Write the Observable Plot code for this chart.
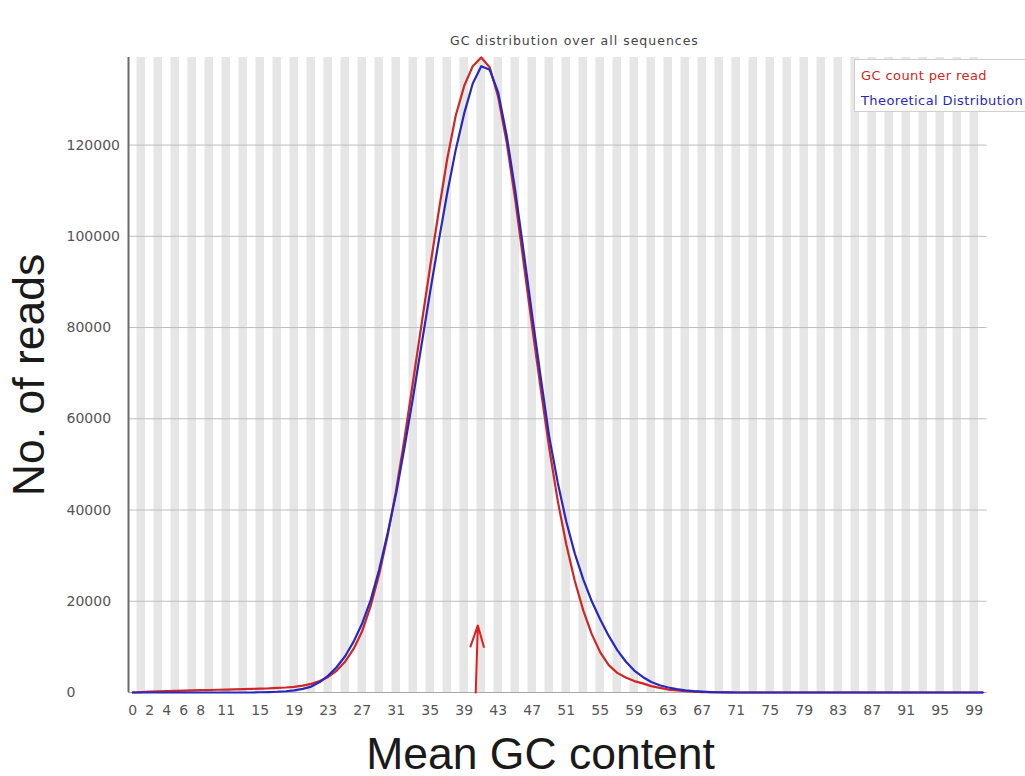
<!DOCTYPE html>
<html>
<head>
<meta charset="utf-8">
<script src="https://cdn.jsdelivr.net/npm/d3@7"></script>
<script src="https://cdn.jsdelivr.net/npm/@observablehq/plot@0.6"></script>
<style>
  html, body { margin: 0; padding: 0; background: #ffffff; overflow: hidden; }
  #wrap { position: relative; width: 1025px; height: 776px; }
  #legend {
    position: absolute; left: 854px; top: 59px; width: 190px; height: 53px;
    background: #fff; border: 1px solid #cfcfcf; box-sizing: border-box;
    font-family: "DejaVu Sans", sans-serif; font-size: 13px; letter-spacing: 0.4px; line-height: 1;
  }
  #legend div { position: absolute; left: 6px; white-space: nowrap; }
</style>
</head>
<body>
<div id="wrap"></div>
<script>
// ---- data ----
const gcCount = [
  0, 100, 200, 250, 300, 350, 400, 450, 500, 550,
  600, 650, 700, 750, 800, 850, 900, 1000, 1100, 1250,
  1500, 1900, 2500, 3400, 4800, 6800, 9600, 13500, 19000, 26000,
  34500, 44500, 56000, 68500, 81000, 93500, 105500, 117000, 126500, 133000,
  137300, 139200, 137000, 130500, 120500, 108000, 94000, 80000, 66500, 53500,
  42000, 32500, 24500, 18000, 12800, 8800, 6000, 4300, 3300, 2500,
  2000, 1400, 1000, 650, 450, 300, 180, 100, 60, 40,
  20, 0, 0, 0, 0, 0, 0, 0, 0, 0,
  0, 0, 0, 0, 0, 0, 0, 0, 0, 0,
  0, 0, 0, 0, 0, 0, 0, 0, 0, 0,
  0
];
const theoretical = [
  0, 0, 0, 0, 0, 0, 0, 0, 0, 0,
  0, 0, 0, 0, 0, 50, 90, 160, 280, 480,
  800, 1300, 2300, 3700, 5600, 8000, 11200, 15200, 20300, 27000,
  35000, 43800, 54000, 65000, 76500, 88000, 99000, 109500, 119000, 127000,
  133500, 137300, 136500, 131500, 122000, 110000, 96500, 82500, 69000, 56000,
  46000, 37500, 30500, 24800, 20000, 16000, 12400, 9300, 6800, 4800,
  3400, 2300, 1600, 1100, 750, 480, 300, 180, 100, 60,
  30, 0, 0, 0, 0, 0, 0, 0, 0, 0,
  0, 0, 0, 0, 0, 0, 0, 0, 0, 0,
  0, 0, 0, 0, 0, 0, 0, 0, 0, 0,
  0
];
const categories = gcCount.map((_, i) => i);           // GC % 0..100
const yTicks = [0, 20000, 40000, 60000, 80000, 100000, 120000];
const xTickLabels = [0, 2, 4, 6, 8, 11, 15, 19, 23, 27, 31, 35, 39, 43, 47, 51, 55, 59, 63, 67, 71, 75, 79, 83, 87, 91, 95, 99];
const yMax = 139200;
const arrowMark = [{x1: 40.35, y1: 0, x2: 40.6, y2: 14700}];
const titleText = "GC distribution over all sequences";
const xLabel = "Mean GC content";
const yLabel = "No. of reads";
const seriesNames = ["GC count per read", "Theoretical Distribution"];
const seriesColors = ["#cf2626", "#2828c0"];

const rows = categories.map(k => ({k, red: gcCount[k], blue: theoretical[k]}));
const oddCats = categories.filter(k => k % 2 === 1);

const chart = Plot.plot({
  width: 1025,
  height: 776,
  marginLeft: 128,
  marginRight: 38.5,
  marginTop: 57,
  marginBottom: 84,
  x: {type: "linear", domain: [-0.5, categories.length - 0.5], axis: null},
  y: {type: "linear", domain: [0, yMax], axis: null},
  style: {fontFamily: "'DejaVu Sans', sans-serif", background: "transparent", overflow: "visible"},
  marks: [
    Plot.rect(oddCats, {x1: d => d - 0.5, x2: d => d + 0.5, fill: "#e6e6e6"}),
    Plot.ruleY(yTicks.slice(1), {stroke: "#bdbdbd", strokeWidth: 1}),
    Plot.ruleY([0], {stroke: "#a8a8a8", strokeWidth: 1}),
    Plot.ruleX([-0.5], {stroke: "#6a6a6a", strokeWidth: 2}),
    Plot.line(rows, {x: "k", y: "red", stroke: seriesColors[0], strokeWidth: 2.2}),
    Plot.line(rows, {x: "k", y: "blue", stroke: seriesColors[1], strokeWidth: 2.2}),
    Plot.arrow(arrowMark, {x1: "x1", y1: "y1", x2: "x2", y2: "y2", stroke: "#e01e1e", strokeWidth: 2, headLength: 20, headAngle: 35}),
    // y tick labels (left aligned, as in the reference)
    Plot.text(yTicks, {y: d => d, text: d => String(d), frameAnchor: "left", dx: -62, textAnchor: "start", fontSize: 14, fill: "#555"}),
    // x tick labels
    Plot.text(xTickLabels, {x: d => d, text: d => String(d), frameAnchor: "bottom", dy: 18, lineAnchor: "middle", fontSize: 14, fill: "#555"}),
    // title
    Plot.text([titleText], {text: d => d, frameAnchor: "top-left", dx: 446, dy: -17, lineAnchor: "middle", textAnchor: "middle", fontSize: 12.5, fill: "#444"}),
    // x axis label
    Plot.text([xLabel], {text: d => d, frameAnchor: "bottom-left", dx: 412, dy: 62, lineAnchor: "middle", textAnchor: "middle", fontSize: 44.5, fill: "#1a1a1a", fontFamily: "'Liberation Sans', Arial, sans-serif"}),
    // y axis label
    Plot.text([yLabel], {text: d => d, frameAnchor: "left", dx: -99, rotate: -90, lineAnchor: "middle", textAnchor: "middle", fontSize: 44.5, fill: "#1a1a1a", fontFamily: "'Liberation Sans', Arial, sans-serif"})
  ]
});

// widen the small title's tracking to match the reference
d3.select(chart).selectAll("text")
  .filter(function () { return this.textContent === titleText; })
  .style("letter-spacing", "1px");

const wrap = document.getElementById("wrap");
wrap.appendChild(chart);

const legend = document.createElement("div");
legend.id = "legend";
seriesNames.forEach((name, i) => {
  const d = document.createElement("div");
  d.textContent = name;
  d.style.color = seriesColors[i];
  d.style.top = (i === 0 ? 9 : 34) + "px";
  legend.appendChild(d);
});
wrap.appendChild(legend);
</script>
</body>
</html>
